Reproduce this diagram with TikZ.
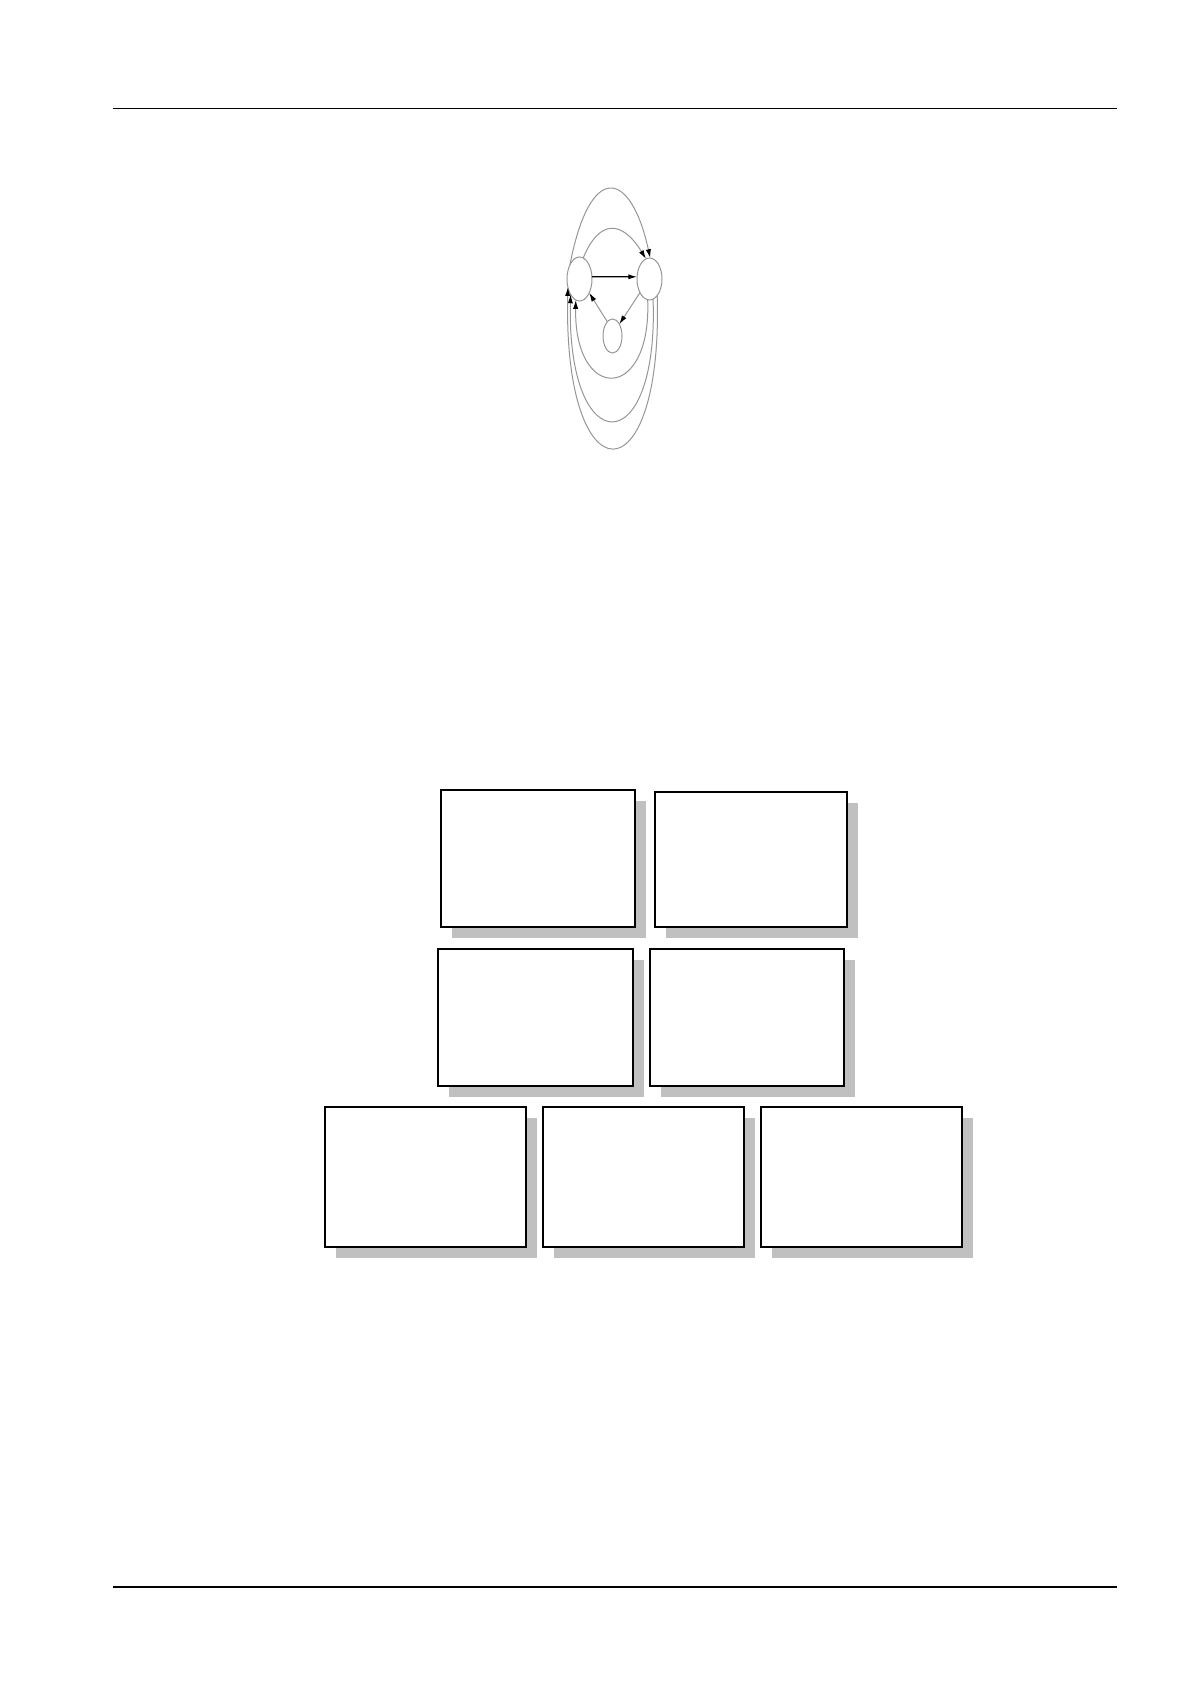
\documentclass[tikz,border=0pt]{standalone}
\usepackage{tikz}
\usetikzlibrary{shapes.geometric,shadows,arrows.meta}
\definecolor{shadowgray}{RGB}{192,192,192}
\definecolor{linkgray}{RGB}{150,150,150}

\tikzset{
	state/.style={ellipse, draw=linkgray, line width=0.5pt, inner sep=0pt, outer sep=0pt},
	link/.style={draw=linkgray, line width=0.5pt, ->},
	panel/.style={rectangle, draw=black, line width=#1, fill=white, anchor=north west,
		inner sep=0pt, outer sep=0pt,
		drop shadow={shadow xshift=5.5pt, shadow yshift=-5.5pt, fill=shadowgray, opacity=1}},
	panel/.default=1pt
}

\begin{document}
\begin{tikzpicture}[x=0.5pt,y=-0.5pt,>={Latex[length=4.4pt,width=2.6pt,black]}]
\useasboundingbox (0,0) rectangle (1190,1684);

% Page rules
\coordinate (T1) at (113,108.7);
\coordinate (T2) at (1117,108.7);
\coordinate (F1) at (113,1587);
\coordinate (F2) at (1117,1587);
\draw[line width=0.75pt] (T1) -- (T2);
\draw[line width=0.75pt] (F1) -- (F2);

% The three states
\node[state, minimum width=12.5pt, minimum height=22pt] (V1) at (579.5,279) {};
\node[state, minimum width=12.5pt, minimum height=21pt] (V2) at (649.5,279) {};
\node[state, minimum width=9.5pt, minimum height=17pt] (V3) at (612.5,336) {};

% Direct transitions
\draw[->, line width=0.6pt] (V1.10) -- (V2.170);
\draw[link] (V2.235) -- (V3.60);
\draw[link] (V3.110) -- (V1.305);

% Arcs over the top
\draw[link] (V1.124) .. controls +(20,-104) and +(-19.5,-89) .. (V2.88);
\draw[link] (V1.80) .. controls +(16,-39) and +(-24,-39) .. (V2.100);

% Arcs round the bottom
\draw[link] (V2.265) .. controls +(4,103) and +(-2,103) .. (V1.260);
\draw[link] (V2.280) .. controls +(6,163) and +(-4,168) .. (V1.240);
\draw[link] (V2.295) .. controls +(6,205) and +(-5,213) .. (V1.215);

% Panels
\node[panel, minimum width=97pt, minimum height=68.5pt] (B1) at (441,790) {};
\node[panel=0.65pt, minimum width=96pt, minimum height=67.5pt] (B2) at (655,792) {};
\node[panel=0.9pt, minimum width=97.5pt, minimum height=68.5pt] (B3) at (438,949) {};
\node[panel, minimum width=97pt, minimum height=68.5pt] (B4) at (650,949) {};
\foreach \name/\x in {B5/325,B6/543,B7/761}
\node[panel=0.9pt, minimum width=100.5pt, minimum height=70pt] (\name) at (\x,1107) {};
\end{tikzpicture}
\end{document}
